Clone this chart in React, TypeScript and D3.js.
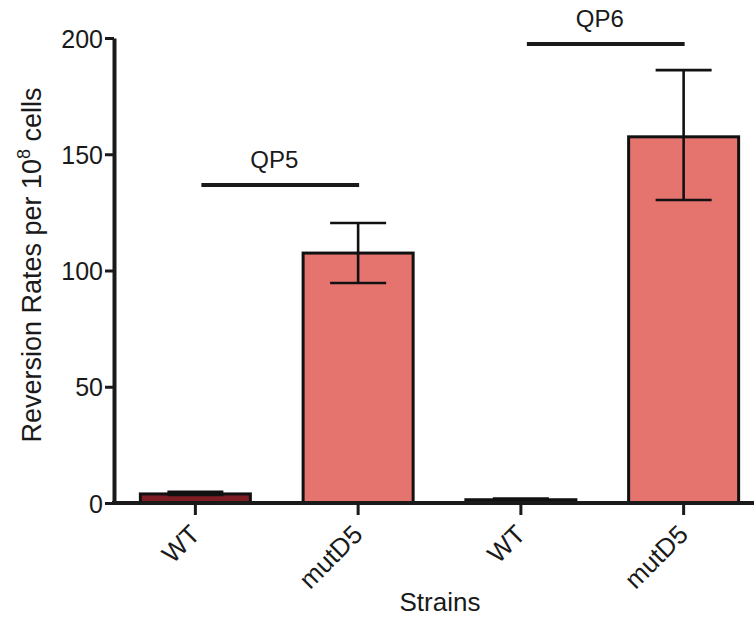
import React, { useRef, useEffect } from 'react';
import * as d3 from 'd3';

const strains = ['WT', 'mutD5', 'WT', 'mutD5'];
const rates = [3.9, 107.5, 1.4, 157.5];
const errLow = [3.5, 94.6, 1.2, 130.3];
const errHigh = [4.8, 120.4, 1.9, 186.2];
const fills = ['#7e1d24', '#e5736e', '#2a1414', '#e5736e'];
const groups = ['QP5', 'QP6'];
const groupLevels = [136.8, 197.4];
const yTicks = [0, 50, 100, 150, 200];

const App = () => {
  const ref = useRef<SVGSVGElement | null>(null);

  useEffect(() => {
    const width = 754;
    const height = 621;
    const left = 114;
    const top = 38;
    const bottom = 503;
    const font = 'Liberation Sans, Arial, sans-serif';
    const ink = '#1a1a1a';

    const svg = d3.select(ref.current);
    svg.selectAll('*').remove();
    svg.attr('width', width).attr('height', height);

    const x = d3.scaleBand<number>()
      .domain(d3.range(strains.length))
      .range([left, 765])
      .paddingInner(0.324)
      .paddingOuter(0.162);

    const y = d3.scaleLinear().domain([0, 200]).range([bottom, top]);

    // bars
    svg.append('g')
      .selectAll('rect')
      .data(rates)
      .join('rect')
      .attr('x', (d, i) => x(i)!)
      .attr('y', d => y(d))
      .attr('width', x.bandwidth())
      .attr('height', d => y(0) - y(d))
      .attr('fill', (d, i) => fills[i])
      .attr('stroke', '#111')
      .attr('stroke-width', 3);

    // error bars
    const cap = 28;
    const eb = svg.append('g').attr('stroke', '#111').attr('stroke-width', 2.6);
    rates.forEach((d, i) => {
      const cx = x(i)! + x.bandwidth() / 2;
      eb.append('line').attr('x1', cx).attr('x2', cx).attr('y1', y(errHigh[i])).attr('y2', y(errLow[i]));
      eb.append('line').attr('x1', cx - cap).attr('x2', cx + cap).attr('y1', y(errHigh[i])).attr('y2', y(errHigh[i]));
      eb.append('line').attr('x1', cx - cap).attr('x2', cx + cap).attr('y1', y(errLow[i])).attr('y2', y(errLow[i]));
    });

    // y axis
    const yAxis = svg.append('g')
      .attr('transform', `translate(${left},0)`)
      .call(d3.axisLeft(y).tickValues(yTicks).tickSize(9).tickPadding(2).tickSizeOuter(0));
    yAxis.select('.domain').attr('stroke', ink).attr('stroke-width', 4);
    yAxis.selectAll('.tick line').attr('stroke', ink).attr('stroke-width', 3);
    yAxis.selectAll('.tick text')
      .attr('font-family', font)
      .attr('font-size', 25)
      .attr('fill', ink)
      .attr('dy', '0.36em');

    // x axis
    const xAxis = svg.append('g')
      .attr('transform', `translate(0,${bottom})`)
      .call(d3.axisBottom(x).tickSize(12).tickSizeOuter(0).tickFormat(i => strains[i as number]));
    xAxis.select('.domain').attr('d', `M${left - 2},0H${width}`).attr('stroke', ink).attr('stroke-width', 4);
    xAxis.selectAll('.tick line').attr('stroke', ink).attr('stroke-width', 3);
    xAxis.selectAll('.tick text')
      .attr('font-family', font)
      .attr('font-size', 26)
      .attr('fill', ink)
      .attr('text-anchor', 'end')
      .attr('x', 0)
      .attr('y', 0)
      .attr('dy', 0)
      .attr('transform', 'translate(6,33) rotate(-45)');

    // group brackets
    groups.forEach((g, k) => {
      const x1 = x(k * 2)! + x.bandwidth() / 2 + 6;
      const x2 = x(k * 2 + 1)! + x.bandwidth() / 2 + 1;
      const gy = y(groupLevels[k]);
      svg.append('line')
        .attr('x1', x1).attr('x2', x2).attr('y1', gy).attr('y2', gy)
        .attr('stroke', ink).attr('stroke-width', 4);
      svg.append('text')
        .attr('x', (x1 + x2) / 2 - 6)
        .attr('y', gy - 17)
        .attr('text-anchor', 'middle')
        .attr('font-family', font)
        .attr('font-size', 24)
        .attr('fill', ink)
        .text(g);
    });

    // axis titles
    const yt = svg.append('text')
      .attr('transform', `translate(41,265) rotate(-90)`)
      .attr('text-anchor', 'middle')
      .attr('font-family', font)
      .attr('font-size', 27)
      .attr('fill', ink);
    yt.append('tspan').text('Reversion Rates per 10');
    yt.append('tspan').attr('dy', -11).attr('font-size', 18).text('8');
    yt.append('tspan').attr('dy', 11).text(' cells');

    svg.append('text')
      .attr('x', 440)
      .attr('y', 611)
      .attr('text-anchor', 'middle')
      .attr('font-family', font)
      .attr('font-size', 26)
      .attr('fill', ink)
      .text('Strains');
  }, []);

  return (
    <div style={{ position: 'absolute', left: 0, top: 0 }}>
      <svg ref={ref} style={{ display: 'block', background: '#fff' }}></svg>
    </div>
  );
};

export default App;
